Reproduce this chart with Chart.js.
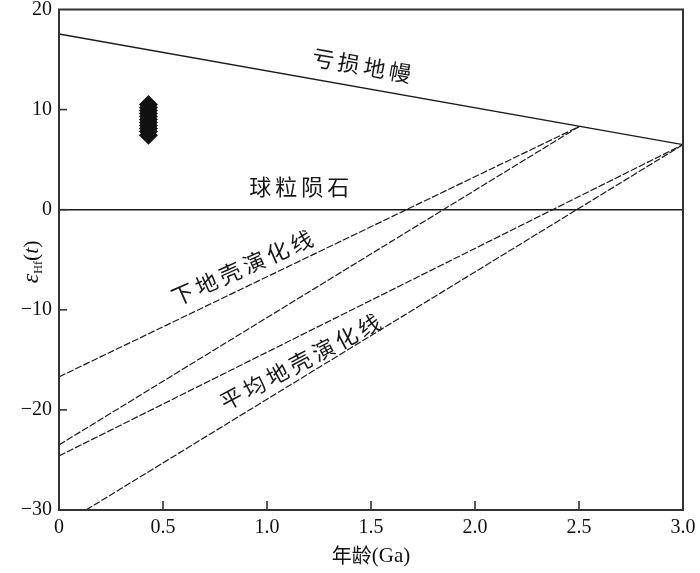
<!DOCTYPE html>
<html>
<head>
<meta charset="utf-8">
<script src="https://cdn.jsdelivr.net/npm/chart.js@4.4.1/dist/chart.umd.min.js"></script>
<style>
html,body{margin:0;padding:0;background:#fff;}
#wrap{width:700px;height:573px;position:relative;}
</style>
</head>
<body>
<div id="wrap"><canvas id="c" width="700" height="573"></canvas></div>
<script>
// ---- data ----
const xTicks = [0, 0.5, 1.0, 1.5, 2.0, 2.5, 3.0];
const yTicks = [-30, -20, -10, 0, 10, 20];
const dmAge = [0, 3.0];      const dmEps = [17.55, 6.5];     // 亏损地幔
const churAge = [0, 3.0];    const churEps = [0, 0];         // 球粒陨石
const lc1Age = [0, 2.5];     const lc1Eps = [-16.7, 8.3];    // 下地壳演化线 (2.5 Ga)
const ac1Age = [0, 2.5];     const ac1Eps = [-23.5, 8.3];    // 平均地壳演化线 (2.5 Ga)
const lc2Age = [0, 3.0];     const lc2Eps = [-24.6, 6.5];    // 下地壳演化线 (3.0 Ga)
const ac2Age = [0.13, 3.0];  const ac2Eps = [-30, 6.5];      // 平均地壳演化线 (3.0 Ga)
const zrAge = [0.43, 0.43, 0.43, 0.43, 0.43, 0.43, 0.43, 0.43, 0.43, 0.43, 0.43];
const zrEps = [10.5, 10.2, 9.9, 9.6, 9.3, 9.0, 8.7, 8.4, 8.1, 7.8, 7.45];
const labels = [
  {text: '亏损地幔', x: 1.455, y: 14.4, angle: 10},
  {text: '球粒陨石', x: 1.155, y: 2.35, angle: 0},
  {text: '下地壳演化线', x: 0.88, y: -5.8, angle: -24},
  {text: '平均地壳演化线', x: 1.16, y: -15.2, angle: -28}
];

const pts = (xs, ys) => xs.map((x, i) => ({x: x, y: ys[i]}));
const lineDs = (xs, ys, dashed) => ({
  type: 'line', data: pts(xs, ys), borderColor: '#1a1a1a', borderWidth: dashed ? 1.2 : 1.4,
  borderDash: dashed ? [7, 2] : [], pointRadius: 0, fill: false, tension: 0
});

const serif = '"Liberation Serif","Times New Roman",serif';
const cjk = '"Noto Sans CJK SC","Noto Sans CJK JP",sans-serif';

const decor = {
  id: 'decor',
  afterDatasetsDraw(chart) {
    const ctx = chart.ctx, xs = chart.scales.x, ys = chart.scales.y, a = chart.chartArea;
    ctx.save();
    // frame
    ctx.strokeStyle = '#333'; ctx.lineWidth = 2;
    ctx.strokeRect(a.left, a.top, a.right - a.left, a.bottom - a.top);
    // inner ticks
    ctx.lineWidth = 1.6;
    yTicks.forEach(v => {
      if (v === -30 || v === 20) return;
      const py = ys.getPixelForValue(v);
      ctx.beginPath(); ctx.moveTo(a.left, py); ctx.lineTo(a.left + 8, py); ctx.stroke();
    });
    xTicks.forEach(v => {
      if (v === 0 || v === 3.0) return;
      const px = xs.getPixelForValue(v);
      ctx.beginPath(); ctx.moveTo(px, a.bottom); ctx.lineTo(px, a.bottom - 9); ctx.stroke();
    });
    // curve labels
    ctx.fillStyle = '#161616';
    ctx.font = '22px ' + cjk;
    ctx.textAlign = 'center'; ctx.textBaseline = 'middle';
    try { ctx.letterSpacing = '4px'; } catch (e) {}
    labels.forEach(l => {
      ctx.save();
      ctx.translate(xs.getPixelForValue(l.x), ys.getPixelForValue(l.y));
      ctx.rotate(l.angle * Math.PI / 180);
      ctx.fillText(l.text, 2, 0);
      ctx.restore();
    });
    try { ctx.letterSpacing = '0px'; } catch (e) {}
    // x axis title
    ctx.fillStyle = '#111';
    const t1 = '年龄', t2 = '(Ga)';
    ctx.font = '20px ' + cjk; const w1 = ctx.measureText(t1).width;
    ctx.font = '21px ' + serif; const w2 = ctx.measureText(t2).width;
    let sx = (a.left + a.right) / 2 - (w1 + w2) / 2;
    const ty = 555;
    ctx.textAlign = 'left';
    ctx.font = '20px ' + cjk; ctx.fillText(t1, sx, ty);
    ctx.font = '21px ' + serif; ctx.fillText(t2, sx + w1, ty + 1);
    // y axis title: εHf(t)
    ctx.save();
    ctx.translate(30, (a.top + a.bottom) / 2 + 2);
    ctx.rotate(-Math.PI / 2);
    ctx.textBaseline = 'alphabetic';
    const parts = [
      {t: 'ε', f: 'italic 24px ' + serif, dy: 0},
      {t: 'Hf', f: '12px ' + serif, dy: 4},
      {t: '(', f: '22px ' + serif, dy: 0},
      {t: 't', f: 'italic 22px ' + serif, dy: 0},
      {t: ')', f: '22px ' + serif, dy: 0}
    ];
    let tw = 0;
    parts.forEach(p => { ctx.font = p.f; p.w = ctx.measureText(p.t).width; tw += p.w; });
    let cx = -tw / 2;
    parts.forEach(p => { ctx.font = p.f; ctx.fillText(p.t, cx, 8 + p.dy); cx += p.w; });
    ctx.restore();
    ctx.restore();
  }
};

new Chart(document.getElementById('c'), {
  type: 'scatter',
  data: {
    datasets: [
      lineDs(dmAge, dmEps, false),
      lineDs(churAge, churEps, false),
      lineDs(lc1Age, lc1Eps, true),
      lineDs(ac1Age, ac1Eps, true),
      lineDs(lc2Age, lc2Eps, true),
      lineDs(ac2Age, ac2Eps, true),
      {
        type: 'scatter', data: pts(zrAge, zrEps), pointStyle: 'rectRot',
        pointRadius: 9.5, backgroundColor: '#111', borderColor: '#111', borderWidth: 0
      }
    ]
  },
  options: {
    responsive: false, animation: false, devicePixelRatio: 1,
    layout: {padding: {top: 8, right: 17, left: 0, bottom: 0}},
    plugins: {legend: {display: false}, tooltip: {enabled: false}},
    scales: {
      x: {
        type: 'linear', min: 0, max: 3.0,
        afterBuildTicks: s => { s.ticks = xTicks.map(v => ({value: v})); },
        afterFit: s => { s.height = 63; s.paddingLeft = 0; s.paddingRight = 0; },
        grid: {display: false, drawTicks: false},
        border: {display: false},
        ticks: {
          padding: 6, color: '#111', font: {family: serif, size: 20}, maxRotation: 0,
          callback: v => v === 0 ? '0' : Number(v).toFixed(1)
        }
      },
      y: {
        type: 'linear', min: -30, max: 20,
        afterBuildTicks: s => { s.ticks = yTicks.map(v => ({value: v})); },
        afterFit: s => { s.width = 59; s.paddingTop = 0; s.paddingBottom = 0; },
        grid: {display: false, drawTicks: false},
        border: {display: false},
        ticks: {
          padding: 7, color: '#111', font: {family: serif, size: 20},
          callback: v => String(v).replace('-', '\u2212')
        }
      }
    }
  },
  plugins: [decor]
});
</script>
</body>
</html>
